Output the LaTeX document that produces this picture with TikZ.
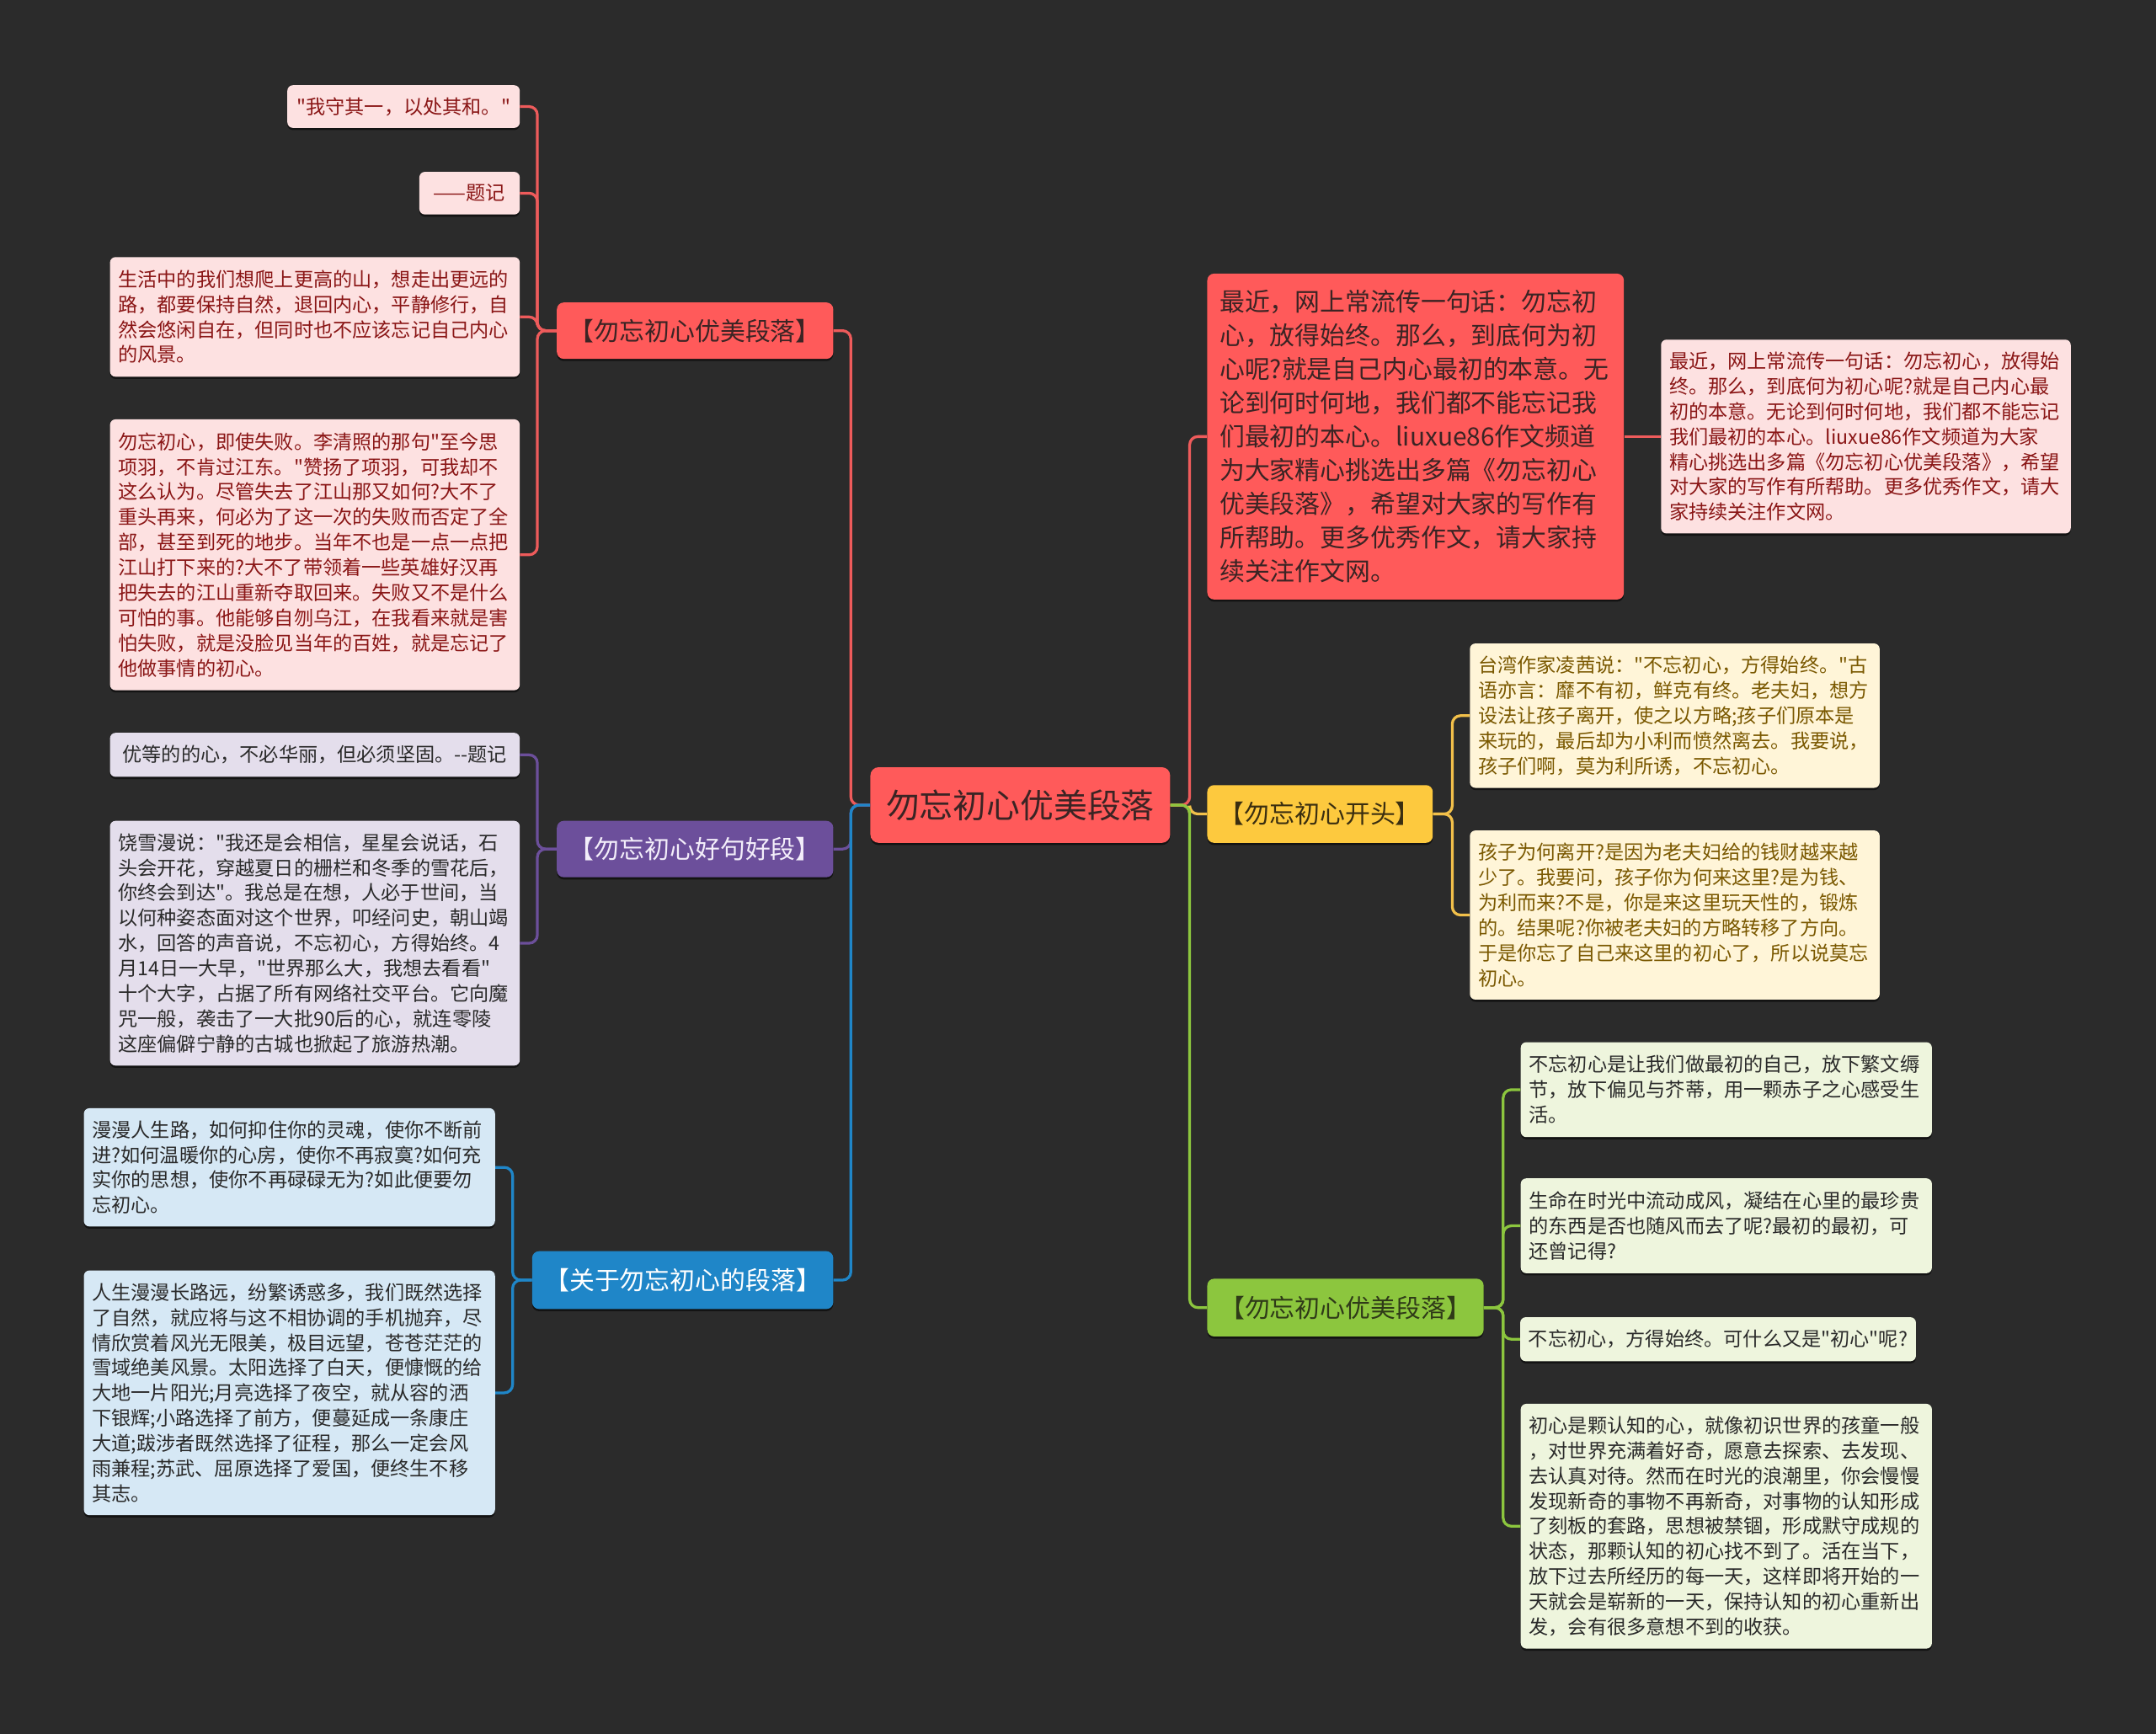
\documentclass[tikz,border=0pt]{standalone}
\usepackage{fontspec}
\setmainfont{Noto Sans CJK SC}[Ligatures=TeXOff]
\usetikzlibrary{shadows}
\definecolor{bg}{HTML}{2B2B2B}
\definecolor{redc}{HTML}{FF5A5A}
\definecolor{redline}{HTML}{EE5B5B}
\definecolor{redtext}{HTML}{3B2424}
\definecolor{pinkfill}{HTML}{FDE1E1}
\definecolor{pinktext}{HTML}{8A1616}
\definecolor{purc}{HTML}{6C4F9B}
\definecolor{purtext}{HTML}{F3EEFA}
\definecolor{lavfill}{HTML}{E4DEEC}
\definecolor{darktext}{HTML}{2A2A2A}
\definecolor{bluec}{HTML}{1F86C8}
\definecolor{bluefill}{HTML}{D6E8F5}
\definecolor{yelc}{HTML}{FDC93E}
\definecolor{yelline}{HTML}{F2C04A}
\definecolor{yeltext}{HTML}{3A2E10}
\definecolor{creamfill}{HTML}{FFF5D8}
\definecolor{creamtext}{HTML}{7A5800}
\definecolor{grnc}{HTML}{8CC63E}
\definecolor{grntext}{HTML}{2F3A18}
\definecolor{grnfill}{HTML}{EEF5DD}
\tikzset{
  x=1pt, y=-1pt,
  boxbase/.style={rounded corners=4pt, inner ysep=0pt, drop shadow={shadow xshift=0pt, shadow yshift=-1.6pt, opacity=0.55, fill=black}},
  leaf/.style={boxbase, inner xsep=6pt, align=left, font=\fontsize{14.2}{18.3}\selectfont},
  oneline/.style={boxbase, inner xsep=6pt, align=center, font=\fontsize{14.2}{18.3}\selectfont},
  branch/.style={boxbase, rounded corners=5pt, inner xsep=4pt, align=center, font=\fontsize{18.3}{22}\selectfont},
  pinkbox/.style={fill=pinkfill, text=pinktext},
  lavbox/.style={fill=lavfill, text=darktext},
  bluebox/.style={fill=bluefill, text=darktext},
  creambox/.style={fill=creamfill, text=creamtext},
  grnbox/.style={fill=grnfill, text=darktext},
  conn/.style={line width=2pt, rounded corners=6pt},
}
\begin{document}
\begin{tikzpicture}
\fill[bg] (0,0) rectangle (1568,1261);
\useasboundingbox (0,0) rectangle (1568,1261);

% center
\node[boxbase, rounded corners=6pt, fill=redc, text=redtext, font=\fontsize{24.4}{28}\selectfont, minimum width=218, minimum height=55] (root) at (742,585.5) {勿忘初心优美段落};

% ---------- left: red branch ----------
\node[branch, fill=redc, text=redtext, minimum width=201, minimum height=41] (rl) at (505.5,240.5) {【勿忘初心优美段落】};
\node[oneline, pinkbox, minimum width=169, minimum height=31] (rl1) at (293.5,77.5) {"我守其一，以处其和。"};
\node[oneline, pinkbox, minimum width=73, minimum height=31] (rl2) at (341.5,140.5) {——题记};
\node[leaf, pinkbox, text width=286, minimum height=87] (rl3) at (229,230.5) {生活中的我们想爬上更高的山，想走出更远的\\路，都要保持自然，退回内心，平静修行，自\\然会悠闲自在，但同时也不应该忘记自己内心\\的风景。};
\node[leaf, pinkbox, text width=286, minimum height=197] (rl4) at (229,403.5) {勿忘初心，即使失败。李清照的那句"至今思\\项羽，不肯过江东。"赞扬了项羽，可我却不\\这么认为。尽管失去了江山那又如何?大不了\\重头再来，何必为了这一次的失败而否定了全\\部，甚至到死的地步。当年不也是一点一点把\\江山打下来的?大不了带领着一些英雄好汉再\\把失去的江山重新夺取回来。失败又不是什么\\可怕的事。他能够自刎乌江，在我看来就是害\\怕失败，就是没脸见当年的百姓，就是忘记了\\他做事情的初心。};

% ---------- left: purple branch ----------
\node[branch, fill=purc, text=purtext, minimum width=201, minimum height=41] (pl) at (505.5,617.5) {【勿忘初心好句好段】};
\node[oneline, lavbox, minimum width=298, minimum height=32] (pl1) at (229,549) {优等的的心，不必华丽，但必须坚固。--题记};
\node[leaf, lavbox, text width=286, minimum height=178] (pl2) at (229,686) {饶雪漫说："我还是会相信，星星会说话，石\\头会开花，穿越夏日的栅栏和冬季的雪花后，\\你终会到达"。我总是在想，人必于世间，当\\以何种姿态面对这个世界，叩经问史，朝山竭\\水，回答的声音说，不忘初心，方得始终。4\\月14日一大早，"世界那么大，我想去看看"\\十个大字，占据了所有网络社交平台。它向魔\\咒一般，袭击了一大批90后的心，就连零陵\\这座偏僻宁静的古城也掀起了旅游热潮。};

% ---------- left: blue branch ----------
\node[branch, fill=bluec, text=white, minimum width=219, minimum height=42] (bl) at (496.5,931) {【关于勿忘初心的段落】};
\node[leaf, bluebox, text width=287, minimum height=86] (bl1) at (210.5,849) {漫漫人生路，如何抑住你的灵魂，使你不断前\\进?如何温暖你的心房，使你不再寂寞?如何充\\实你的思想，使你不再碌碌无为?如此便要勿\\忘初心。};
\node[leaf, bluebox, text width=287, minimum height=178] (bl2) at (210.5,1013) {人生漫漫长路远，纷繁诱惑多，我们既然选择\\了自然，就应将与这不相协调的手机抛弃，尽\\情欣赏着风光无限美，极目远望，苍苍茫茫的\\雪域绝美风景。太阳选择了白天，便慷慨的给\\大地一片阳光;月亮选择了夜空，就从容的洒\\下银辉;小路选择了前方，便蔓延成一条康庄\\大道;跋涉者既然选择了征程，那么一定会风\\雨兼程;苏武、屈原选择了爱国，便终生不移\\其志。};

% ---------- right: red text ----------
\node[boxbase, rounded corners=5pt, fill=redc, text=redtext, inner xsep=9pt, align=left, text width=285, minimum height=237, font=\fontsize{18.3}{24.5}\selectfont] (rr) at (1029.5,317.5) {最近，网上常流传一句话：勿忘初\\心，放得始终。那么，到底何为初\\心呢?就是自己内心最初的本意。无\\论到何时何地，我们都不能忘记我\\们最初的本心。liuxue86作文频道\\为大家精心挑选出多篇《勿忘初心\\优美段落》，希望对大家的写作有\\所帮助。更多优秀作文，请大家持\\续关注作文网。};
\node[leaf, pinkbox, text width=286, minimum height=141] (rr1) at (1357,317.5) {最近，网上常流传一句话：勿忘初心，放得始\\终。那么，到底何为初心呢?就是自己内心最\\初的本意。无论到何时何地，我们都不能忘记\\我们最初的本心。liuxue86作文频道为大家\\精心挑选出多篇《勿忘初心优美段落》，希望\\对大家的写作有所帮助。更多优秀作文，请大\\家持续关注作文网。};

% ---------- right: yellow branch ----------
\node[branch, fill=yelc, text=yeltext, minimum width=164, minimum height=42] (yr) at (960,592) {【勿忘初心开头】};
\node[leaf, creambox, text width=286, minimum height=105] (yr1) at (1218,520.5) {台湾作家凌茜说："不忘初心，方得始终。"古\\语亦言：靡不有初，鲜克有终。老夫妇，想方\\设法让孩子离开，使之以方略;孩子们原本是\\来玩的，最后却为小利而愤然离去。我要说，\\孩子们啊，莫为利所诱，不忘初心。};
\node[leaf, creambox, text width=286, minimum height=123] (yr2) at (1218,665.5) {孩子为何离开?是因为老夫妇给的钱财越来越\\少了。我要问，孩子你为何来这里?是为钱、\\为利而来?不是，你是来这里玩天性的，锻炼\\的。结果呢?你被老夫妇的方略转移了方向。\\于是你忘了自己来这里的初心了，所以说莫忘\\初心。};

% ---------- right: green branch ----------
\node[branch, fill=grnc, text=grntext, minimum width=201, minimum height=42] (gr) at (978.5,951) {【勿忘初心优美段落】};
\node[leaf, grnbox, text width=287, minimum height=69] (gr1) at (1255.5,792.5) {不忘初心是让我们做最初的自己，放下繁文缛\\节，放下偏见与芥蒂，用一颗赤子之心感受生\\活。};
\node[leaf, grnbox, text width=287, minimum height=69] (gr2) at (1255.5,891.5) {生命在时光中流动成风，凝结在心里的最珍贵\\的东西是否也随风而去了呢?最初的最初，可\\还曾记得?};
\node[oneline, grnbox, minimum width=287, minimum height=32] (gr3) at (1249.5,974) {不忘初心，方得始终。可什么又是"初心"呢?};
\node[leaf, grnbox, text width=287, minimum height=178] (gr4) at (1255.5,1110) {初心是颗认知的心，就像初识世界的孩童一般\\，对世界充满着好奇，愿意去探索、去发现、\\去认真对待。然而在时光的浪潮里，你会慢慢\\发现新奇的事物不再新奇，对事物的认知形成\\了刻板的套路，思想被禁锢，形成默守成规的\\状态，那颗认知的初心找不到了。活在当下，\\放下过去所经历的每一天，这样即将开始的一\\天就会是崭新的一天，保持认知的初心重新出\\发，会有很多意想不到的收获。};

% ---------- connectors ----------
\draw[conn, redline] (root.west) -- ++(-14,0) |- (rl.east);
\draw[conn, purc] (root.west) -- ++(-14,0) |- (pl.east);
\draw[conn, bluec] (root.west) -- ++(-14,0) |- (bl.east);
\draw[conn, redline] (root.east) -- ++(14,0) |- (rr.west);
\draw[conn, yelline] (root.east) -- ++(14,0) |- (yr.west);
\draw[conn, grnc] (root.east) -- ++(14,0) |- (gr.west);

\foreach \c in {rl1,rl2,rl3,rl4} \draw[conn, redline] (rl.west) -- ++(-14,0) |- (\c.east);
\foreach \c in {pl1,pl2} \draw[conn, purc] (pl.west) -- ++(-14,0) |- (\c.east);
\foreach \c in {bl1,bl2} \draw[conn, bluec] (bl.west) -- ++(-14,0) |- (\c.east);
\draw[conn, redline] (rr.east) -- (rr1.west);
\foreach \c in {yr1,yr2} \draw[conn, yelline] (yr.east) -- ++(14,0) |- (\c.west);
\foreach \c in {gr1,gr2,gr3,gr4} \draw[conn, grnc] (gr.east) -- ++(14,0) |- (\c.west);
\end{tikzpicture}
\end{document}
